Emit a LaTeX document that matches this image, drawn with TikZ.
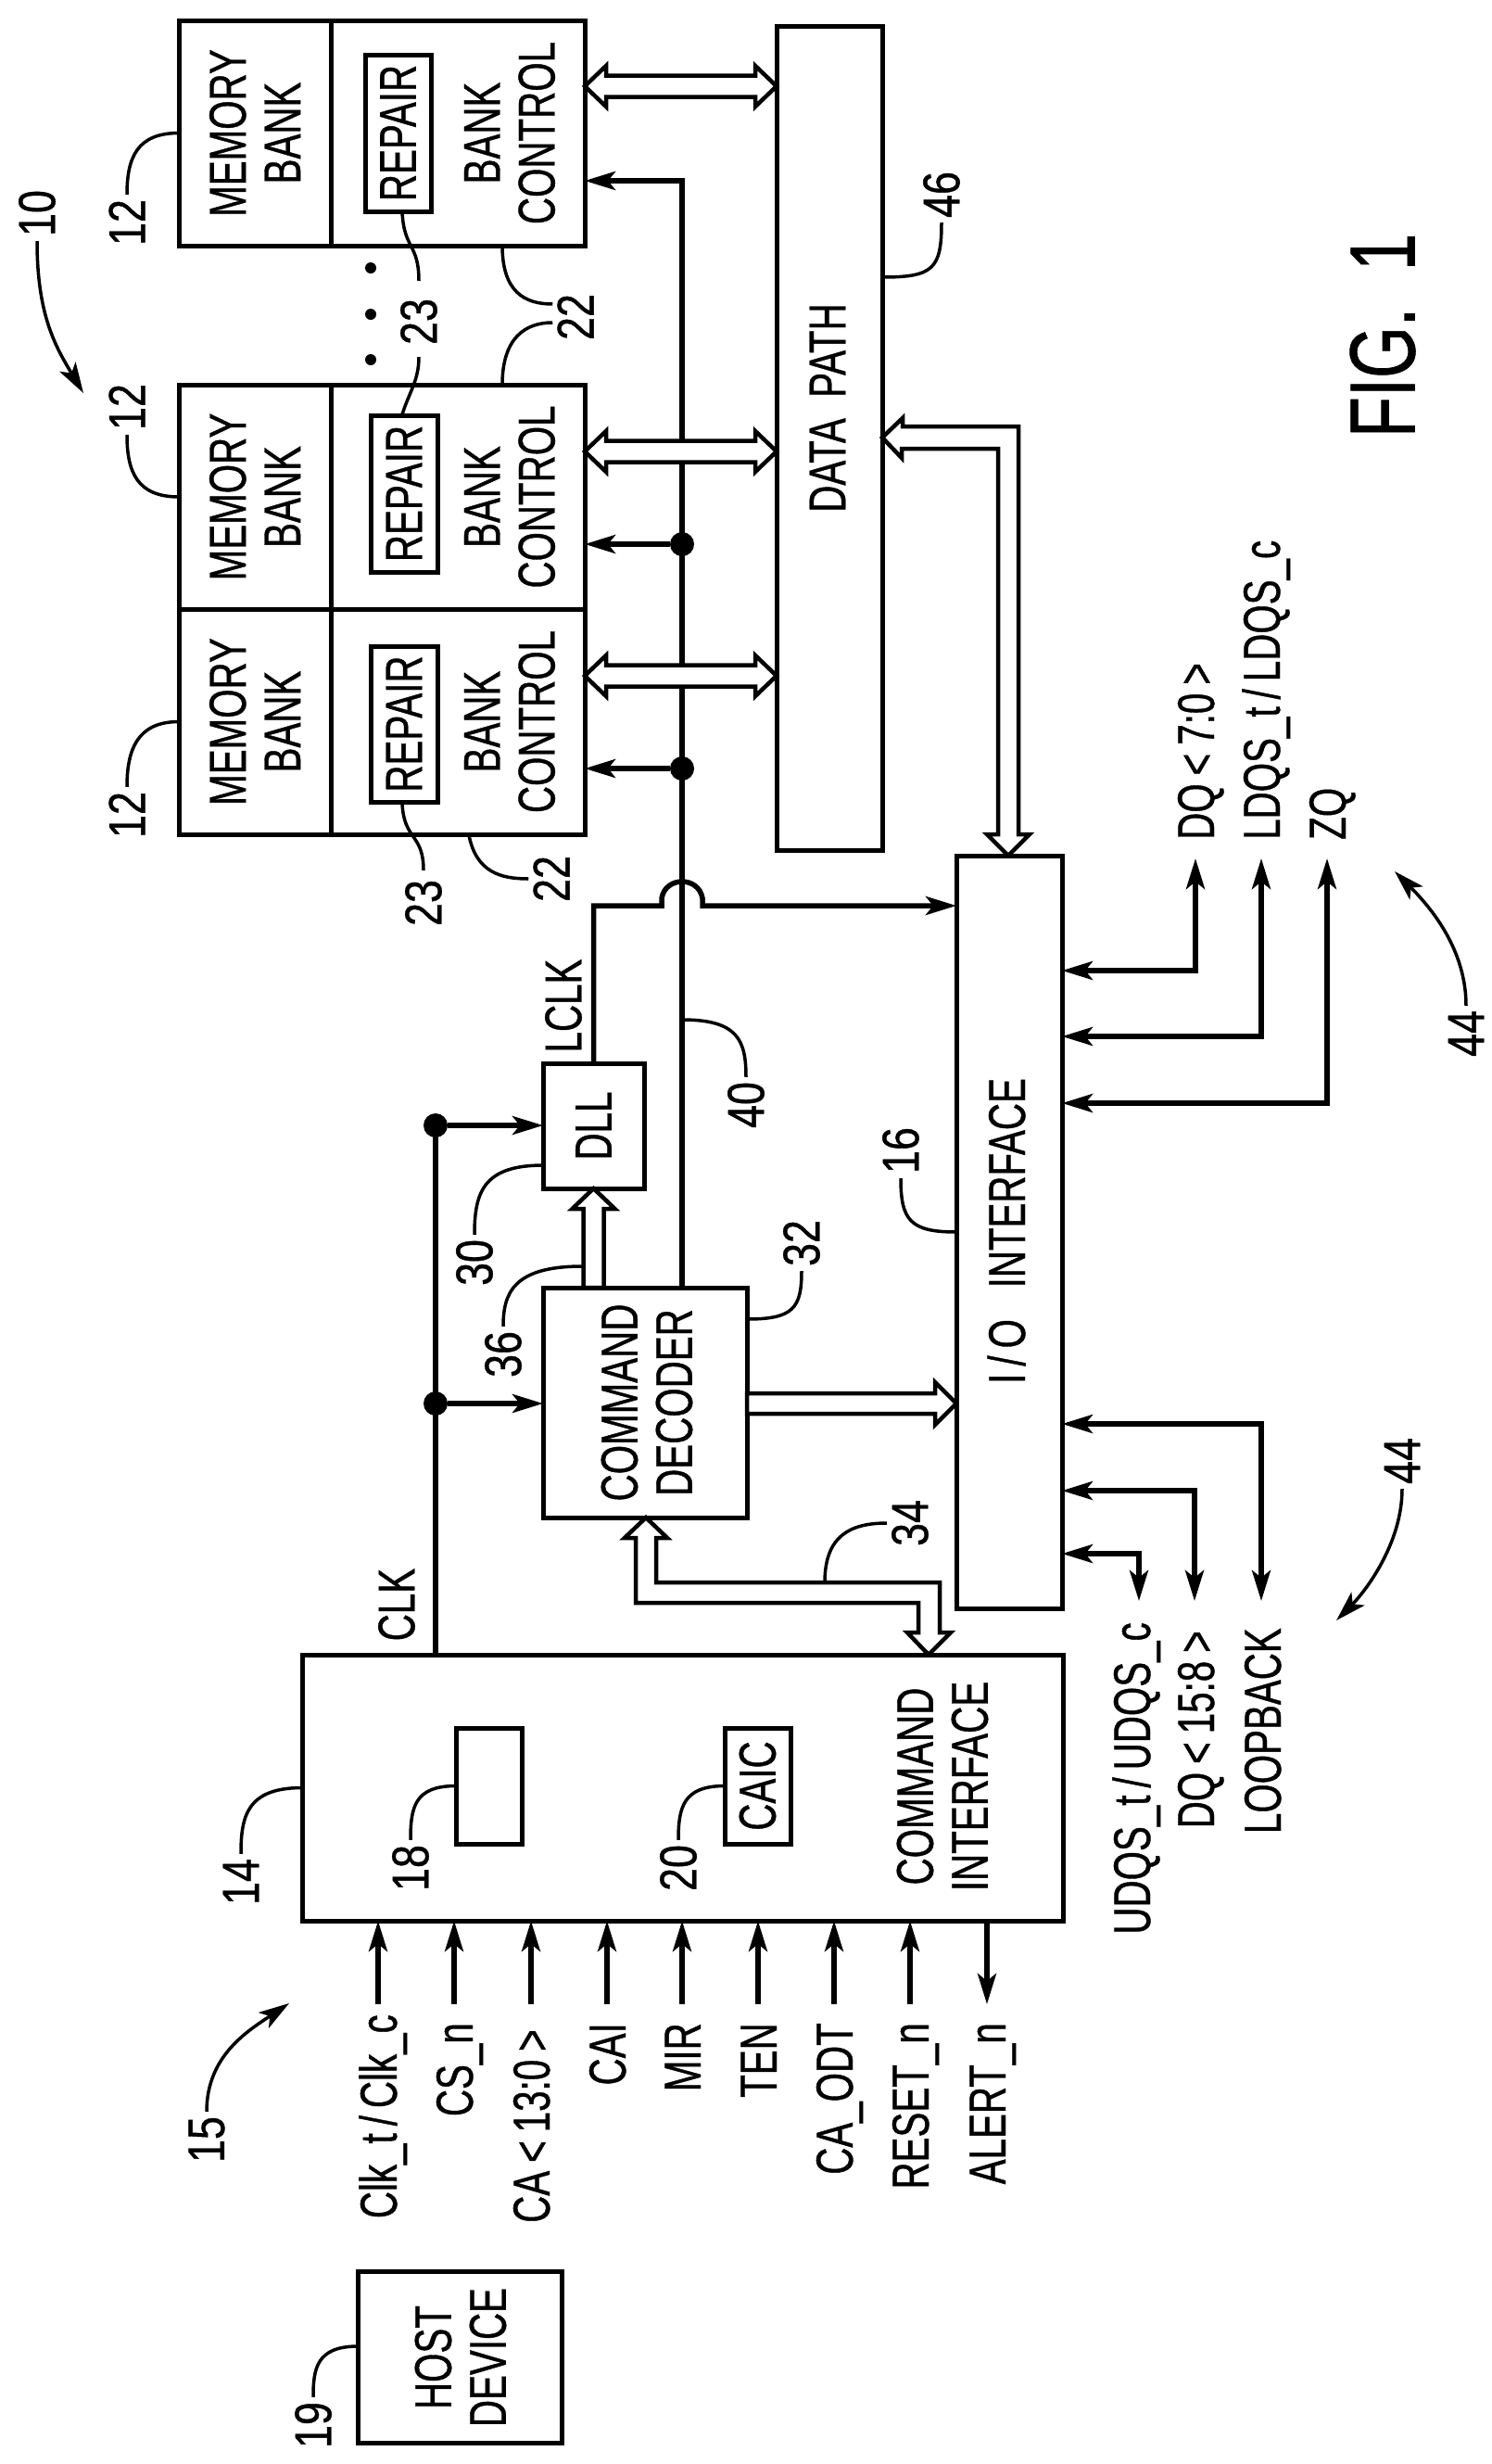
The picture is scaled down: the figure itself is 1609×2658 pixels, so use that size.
\documentclass[tikz,border=0pt]{standalone}
\usepackage{fontspec}
\setmainfont{Liberation Sans}[FakeStretch=0.72, FakeBold=0.7]
\newfontfamily\numfont{Liberation Sans}[FakeStretch=0.8, FakeBold=0.7]
\usetikzlibrary{arrows.meta,calc}
\newcommand{\lt}{\kern9pt<\kern9pt}
\newcommand{\gt}{\kern9pt>}
\newcommand{\slashgap}{\kern8pt/\kern8pt}
\tikzset{
  % one unit is one pixel of the sheet, y runs downwards
  sheet/.style={x=1pt, y=-1pt, >={Stealth[length=33pt, width=20pt, inset=8pt]}},
  block/.style={rectangle, draw, line width=5pt, outer sep=0pt, inner sep=0pt, anchor=north west},
  lbl/.style={rotate=90, align=center, inner sep=0pt, font=\fontsize{56}{59}\selectfont},
  signal/.style={rotate=90, inner sep=0pt, font=\fontsize{56}{59}\selectfont},
  num/.style={rotate=90, inner sep=5pt, font=\numfont\fontsize{56}{59}\selectfont},
  wire/.style={line width=5.5pt},
  leader/.style={line width=3.5pt},
  bus/.style={line width=4.5pt, fill=white, line join=miter},
  dot/.style={circle, fill=black, inner sep=0pt, minimum size=26pt}}
\newcommand{\busboth}[2]{\draw [bus] (#1) -- ++(23,-22) -- ++(0,10.5) -- ($(#2)+(-23,-11.5)$) -- ++(0,-10.5) -- (#2) -- ++(-23,22) -- ++(0,-10.5) -- ($(#1)+(23,11.5)$) -- ++(0,10.5) -- cycle;}

\begin{document}
\begin{tikzpicture}[sheet]
\useasboundingbox (0,0) rectangle (1609,2658);

\draw (193,22) node (mem1) [block, minimum width=164pt, minimum height=243pt] {};
\draw (mem1) node [lbl] {MEMORY\\BANK};
\draw (mem1.north east) node (ctl1) [block, minimum width=274pt, minimum height=243pt] {};
\draw ($(ctl1)+(56,0)$) node [lbl] {BANK\\CONTROL};
\draw (394,59) node (rep1) [block, minimum width=71pt, minimum height=169pt] {};
\draw (rep1) node [lbl] {REPAIR};

\draw (193,415) node (mem2) [block, minimum width=164pt, minimum height=242pt] {};
\draw (mem2) node [lbl] {MEMORY\\BANK};
\draw (mem2.north east) node (ctl2) [block, minimum width=274pt, minimum height=242pt] {};
\draw ($(ctl2)+(56,0)$) node [lbl] {BANK\\CONTROL};
\draw (400,448) node (rep2) [block, minimum width=72pt, minimum height=169pt] {};
\draw (rep2) node [lbl] {REPAIR};

\draw (mem2.south west) node (mem3) [block, minimum width=164pt, minimum height=243pt] {};
\draw (mem3) node [lbl] {MEMORY\\BANK};
\draw (mem3.north east) node (ctl3) [block, minimum width=274pt, minimum height=243pt] {};
\draw ($(ctl3)+(56,0)$) node [lbl] {BANK\\CONTROL};
\draw (400,697) node (rep3) [block, minimum width=72pt, minimum height=168pt] {};
\draw (rep3) node [lbl] {REPAIR};

\draw (400,289) node (gap1) [dot, minimum size=12pt] {};
\draw (400,339) node (gap2) [dot, minimum size=12pt] {};
\draw (400,388) node (gap3) [dot, minimum size=12pt] {};

\draw (838,28) node (dp) [block, minimum width=114pt, minimum height=889pt] {};
\draw (893,440) node (dptext) [lbl] {DATA\ \ PATH};

\draw (1032,923) node (io) [block, minimum width=114pt, minimum height=812pt] {};
\draw (1086,1328) node (iotext) [lbl] {I\slashgap O\ \ \ INTERFACE};

\draw (586,1147) node (dll) [block, minimum width=109pt, minimum height=135pt] {};
\draw (dll) node [lbl] {DLL};
\draw (586,1389) node (cmd) [block, minimum width=220pt, minimum height=248pt] {};
\draw (698,1513) node (cmdtext) [lbl] {COMMAND\\DECODER};

\draw (326,1785) node (ci) [block, minimum width=821pt, minimum height=287pt] {};
\draw (492,1864) node (box18) [block, minimum width=71pt, minimum height=125pt] {};
\draw (782,1864) node (caic) [block, minimum width=71pt, minimum height=125pt] {};
\draw (caic) node [lbl] {CAIC};
\draw (1017,1927) node (citext) [lbl] {COMMAND\\INTERFACE};

\draw (386,2450) node (host) [block, minimum width=220pt, minimum height=185pt] {};
\draw (497,2543) node (hosttext) [lbl] {HOST\\DEVICE};

% internal clock and command lines
\coordinate (bus40) at (736,195);
\draw [wire, ->] (cmd.north -| bus40) -- (bus40) -- (ctl1.east |- bus40);
\draw (bus40 |- 0,587) node (j2) [dot] {};
\draw (bus40 |- 0,829) node (j3) [dot] {};
\draw [wire, ->] (j2) -- (ctl2.east |- j2);
\draw [wire, ->] (j3) -- (ctl3.east |- j3);

\coordinate (lclk) at (641,977);
\draw [wire, ->] (dll.north) |- (714,977) -- ++(0,-8) .. controls +(4,-24) and +(-4,-24) .. (758,969) -- ++(0,8) -- (io.west |- lclk);
\draw (608,1085) node (lclktext) [signal] {LCLK};

\coordinate (clk) at (470,1214);
\draw [wire] (ci.north -| clk) -- (clk);
\draw (clk) node (j4) [dot] {};
\draw (clk |- 0,1514) node (j5) [dot] {};
\draw [wire, ->] (j4) -- (dll.west |- j4);
\draw [wire, ->] (j5) -- (cmd.west |- j5);
\draw (428,1731) node (clktext) [signal] {CLK};

% hollow buses
\coordinate (b1) at (0,93);
\coordinate (b2) at (0,487);
\coordinate (b3) at (0,729);
\busboth{ctl1.east |- b1}{dp.west |- b1}
\busboth{ctl2.east |- b2}{dp.west |- b2}
\busboth{ctl3.east |- b3}{dp.west |- b3}

\path (io.north west) -- +(56,0) coordinate(iobus);
\draw [bus] (dp.east |- 0,472) -- ++(22,-21) -- ++(0,9) -- ++(125,0) -- ++(0,440) -- ++(12,0) -- (iobus) -- ++(-23,-23) -- ++(12,0) -- ++(0,-416) -- ++(-104,0) -- ++(0,10) -- cycle;

\draw [bus] (dll.south) -- ++(-23,22) -- ++(12,0) -- ++(0,85) -- ++(22,0) -- ++(0,-85) -- ++(12,0) -- cycle;
\draw [bus] (cmd.east |- 0,1503) -- ++(203,0) -- ++(0,-12) -- (io.west |- 0,1514) -- ++(-23,23) -- ++(0,-12) -- ++(-203,0) -- cycle;

\path (cmd.south west) -- +(111,0) coordinate(cmdbus);
\path (ci.north west) -- +(676,0) coordinate(cibus);
\draw [bus] (cmdbus) -- ++(23,22) -- ++(-12,0) -- ++(0,48) -- ++(306,0) -- ++(0,54) -- ++(12,0) -- (cibus) -- ++(-23,-24) -- ++(12,0) -- ++(0,-32) -- ++(-305,0) -- ++(0,-70) -- ++(-12,0) -- cycle;

% i/o lines on the right
\draw [wire, <->] (io.east |- 0,1047) -| (1290,926) coordinate(dqtop);
\draw [wire, <->] (io.east |- 0,1118) -| (1361,926) coordinate(ldqstop);
\draw [wire, <->] (io.east |- 0,1190) -| (1432,926) coordinate(zqtop);
\draw (1310,906) node (dq1) [signal, anchor=base west] {DQ\lt 7:0\gt};
\draw (1381,906) node (ldqs) [signal, anchor=base west] {LDQS\_t\slashgap LDQS\_c};
\draw (1452,906) node (zq) [signal, anchor=base west] {ZQ};

\draw [wire, <->] (io.east |- 0,1536) -| (1361,1727) coordinate(loopend);
\draw [wire, <->] (io.east |- 0,1608) -| (1289,1727) coordinate(dq2end);
\draw [wire, <->] (io.east |- 0,1676) -| (1229,1727) coordinate(udqsend);
\draw (1241,1750) node (udqs) [signal, anchor=base east] {UDQS\_t\slashgap UDQS\_c};
\draw (1310,1759) node (dq2) [signal, anchor=base east] {DQ\lt 15:8\gt};
\draw (1382,1756) node (loop) [signal, anchor=base east] {LOOPBACK};

% command interface inputs
\draw [wire, ->] (408,2162) coordinate(s1) -- (s1 |- ci.south);
\draw [wire, ->] (490,2162) coordinate(s2) -- (s2 |- ci.south);
\draw [wire, ->] (573,2162) coordinate(s3) -- (s3 |- ci.south);
\draw [wire, ->] (655,2162) coordinate(s4) -- (s4 |- ci.south);
\draw [wire, ->] (736,2162) coordinate(s5) -- (s5 |- ci.south);
\draw [wire, ->] (818,2162) coordinate(s6) -- (s6 |- ci.south);
\draw [wire, ->] (900,2162) coordinate(s7) -- (s7 |- ci.south);
\draw [wire, ->] (982,2162) coordinate(s8) -- (s8 |- ci.south);
\draw [wire, <-] (1065,2162) coordinate(s9) -- (s9 |- ci.south);

\draw (428,2173) node (t1) [signal, anchor=base east] {Clk\_t\slashgap Clk\_c};
\draw (510,2182) node (t2) [signal, anchor=base east] {CS\_n};
\draw (593,2189) node (t3) [signal, anchor=base east] {CA\lt 13:0\gt};
\draw (675,2182) node (t4) [signal, anchor=base east] {CAI};
\draw (756,2182) node (t5) [signal, anchor=base east] {MIR};
\draw (838,2182) node (t6) [signal, anchor=base east] {TEN};
\draw (920,2182) node (t7) [signal, anchor=base east] {CA\_ODT};
\draw (1002,2182) node (t8) [signal, anchor=base east] {RESET\_n};
\draw (1085,2182) node (t9) [signal, anchor=base east] {ALERT\_n};

% reference numbers
\draw (40,230) node (n10) [num] {10};
\draw [leader, ->] (n10.west) .. controls +(0,80) and +(-30,-50) .. (90,424) coordinate(a10);

\draw (137,240) node (n12a) [num] {12};
\draw [leader] (mem1.west) .. controls +(-45,0) and +(0,-40) .. (n12a.east);
\draw (137,439) node (n12b) [num] {12};
\draw [leader] (mem2.west) .. controls +(-45,0) and +(0,40) .. (n12b.west);
\draw (137,879) node (n12c) [num] {12};
\draw [leader] (mem3.west) .. controls +(-45,0) and +(0,-40) .. (n12c.east);

\draw (452,347) node (n23a) [num] {23};
\draw [leader] (434,229) coordinate(r1) .. controls +(2,40) and +(0,-40) .. ($(n23a.east)+(0,-14)$);
\draw [leader] (434,447) coordinate(r2) .. controls +(8,-25) and +(0,25) .. ($(n23a.west)+(0,8)$);
\draw (457,974) node (n23b) [num] {23};
\draw [leader] (434,867) coordinate(r3) .. controls +(2,40) and +(0,-40) .. ($(n23b.east)+(0,-5)$);

\draw (621,342) node (n22a) [num] {22};
\draw [leader] (542,265) coordinate(c1) .. controls +(0,50) and +(-30,0) .. ($(n22a.north)+(0,-14)$);
\draw [leader] (542,415) coordinate(c2) .. controls +(0,-50) and +(-30,0) .. ($(n22a.north)+(0,6)$);
\draw (595,948) node (n22b) [num] {22};
\draw [leader] (506,901) coordinate(c3) .. controls +(8,40) and +(-30,0) .. (n22b.north);

\draw (1016,210) node (n46) [num] {46};
\draw [leader] (dp.east |- 0,299) .. controls +(55,0) and +(0,50) .. (n46.west);

\draw (972,1241) node (n16) [num] {16};
\draw [leader] (io.west) .. controls +(-50,0) and +(0,45) .. (n16.west);
\draw (805,1192) node (n40) [num] {40};
\draw [leader] (bus40 |- 0,1100) .. controls +(60,0) and +(0,-40) .. (n40.east);
\draw (512,1362) node (n30) [num] {30};
\draw [leader] (dll.west |- 0,1257) .. controls +(-65,0) and +(0,-45) .. (n30.east);
\draw (543,1461) node (n36) [num] {36};
\draw [leader] (628,1366) coordinate(c36) .. controls +(-75,0) and +(0,-35) .. (n36.east);
\draw (865,1341) node (n32) [num] {32};
\draw [leader] (cmd.east |- 0,1423) .. controls +(50,0) and +(0,40) .. (n32.west);
\draw (982,1643) node (n34) [num] {34};
\draw [leader] (890,1707) coordinate(c34) .. controls +(0,-50) and +(-40,0) .. (n34.north);

\draw (1582,1115) node (n44a) [num] {44};
\draw [leader, ->] (n44a.east) .. controls +(0,-60) and +(40,40) .. (1505,940) coordinate(a44a);
\draw (1513,1576) node (n44b) [num] {44};
\draw [leader, ->] (n44b.west) .. controls +(0,60) and +(30,-30) .. (1442,1748) coordinate(a44b);

\draw (260,2030) node (n14) [num] {14};
\draw [leader] (ci.west) .. controls +(-60,0) and +(0,-40) .. (n14.east);
\draw (443,2015) node (n18) [num] {18};
\draw [leader] (box18.west) .. controls +(-45,0) and +(0,-35) .. (n18.east);
\draw (732,2015) node (n20) [num] {20};
\draw [leader] (caic.west) .. controls +(-45,0) and +(0,-35) .. (n20.east);
\draw (338,2616) node (n19) [num] {19};
\draw [leader] (host.west |- 0,2531) .. controls +(-45,0) and +(0,-30) .. (n19.east);
\draw (223,2308) node (n15) [num] {15};
\draw [leader, ->] (n15.east) .. controls +(0,-60) and +(-45,30) .. (312,2161) coordinate(a15);

\draw (1492,362) node (fig) [rotate=90, inner sep=0pt, font=\fontsize{100}{100}\selectfont] {FIG.\ \ 1};

\end{tikzpicture}
\end{document}
